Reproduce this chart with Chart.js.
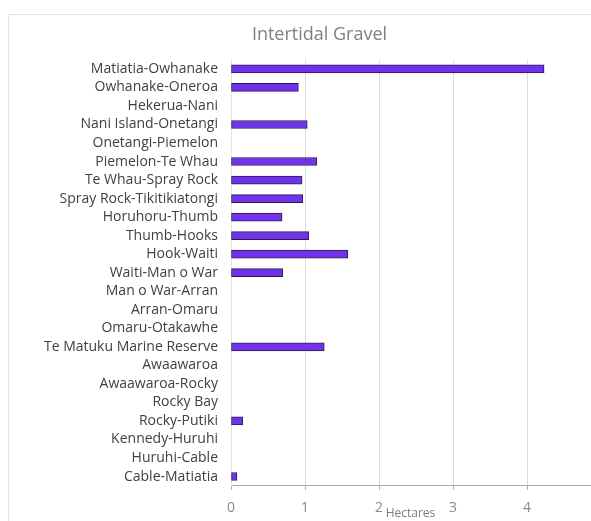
<!DOCTYPE html>
<html>
<head>
<meta charset="utf-8">
<script src="https://cdn.jsdelivr.net/npm/chart.js@4"></script>
<style>
  html, body { margin: 0; padding: 0; background: #fff; }
  #wrap { position: relative; width: 591px; height: 521px; }
  #frame {
    position: absolute; left: 8px; top: 14px; right: -2px; bottom: -2px;
    border-left: 1px solid #e2e2e2; border-top: 1px solid #e2e2e2;
  }
  #gravelChart { position: absolute; left: 0; top: 0; }
</style>
</head>
<body>
<div id="wrap">
  <div id="frame"></div>
  <canvas id="gravelChart" width="591" height="521"></canvas>
</div>
<script>
// Sections of coastline
const sections = [
  "Matiatia-Owhanake",
  "Owhanake-Oneroa",
  "Hekerua-Nani",
  "Nani Island-Onetangi",
  "Onetangi-Piemelon",
  "Piemelon-Te Whau",
  "Te Whau-Spray Rock",
  "Spray Rock-Tikitikiatongi",
  "Horuhoru-Thumb",
  "Thumb-Hooks",
  "Hook-Waiti",
  "Waiti-Man o War",
  "Man o War-Arran",
  "Arran-Omaru",
  "Omaru-Otakawhe",
  "Te Matuku Marine Reserve",
  "Awaawaroa",
  "Awaawaroa-Rocky",
  "Rocky Bay",
  "Rocky-Putiki",
  "Kennedy-Huruhi",
  "Huruhi-Cable",
  "Cable-Matiatia",
];

// Intertidal gravel area (hectares)
const hectares = [
  4.23, 0.91, 0, 1.03, 0, 1.16, 0.96, 0.97, 0.69, 1.05, 1.58, 0.70,
  0, 0, 0, 1.26, 0, 0, 0, 0.16, 0, 0, 0.08,
];

const xTicks = [0, 1, 2, 3, 4];

// title sits a bit left of the plot, not centred on the canvas
const shiftTitle = {
  id: "shiftTitle",
  afterLayout(chart) {
    if (chart.titleBlock) chart.titleBlock.left = 49;
  },
};

const ctx = document.getElementById("gravelChart").getContext("2d");
const gravelChart = new Chart(ctx, {
  type: "bar",
  data: {
    labels: sections,
    datasets: [
      {
        label: "Intertidal Gravel",
        data: hectares,
        backgroundColor: "#7033ec",
        borderColor: "#2a1d4a",
        borderWidth: 1,
        borderSkipped: false,
        barThickness: 8,
      },
    ],
  },
  plugins: [shiftTitle],
  options: {
    indexAxis: "y",
    responsive: false,
    animation: false,
    layout: {
      padding: { left: 0, right: 1, top: 0, bottom: 0 },
    },
    plugins: {
      legend: { display: false },
      tooltip: { enabled: false },
      title: {
        display: true,
        text: "Intertidal Gravel",
        color: "#7f7f7f",
        font: { family: "Open Sans", size: 18, weight: "normal" },
        padding: { top: 24, bottom: 14 },
      },
    },
    scales: {
      x: {
        min: 0,
        max: 4.85,
        afterBuildTicks: (axis) => {
          axis.ticks = xTicks.map((v) => ({ value: v }));
        },
        grid: {
          color: "#dcdcdc",
          tickLength: 4,
          tickColor: "#a8a8c4",
        },
        border: { color: "#a8a8c4", width: 1 },
        ticks: {
          color: "#8a8a8a",
          font: { family: "Open Sans", size: 14 },
          padding: 10,
        },
        title: {
          display: true,
          text: "Hectares",
          color: "#7a7a7a",
          font: { family: "Open Sans", size: 12 },
          padding: { top: -20, bottom: 0 },
        },
      },
      y: {
        afterFit: (axis) => {
          axis.width = 231;
        },
        grid: { display: false },
        border: { color: "#e4e4e4" },
        ticks: {
          color: "#404040",
          font: { family: "Open Sans", size: 14 },
          padding: 5,
          autoSkip: false,
        },
      },
    },
  },
});
</script>
</body>
</html>
